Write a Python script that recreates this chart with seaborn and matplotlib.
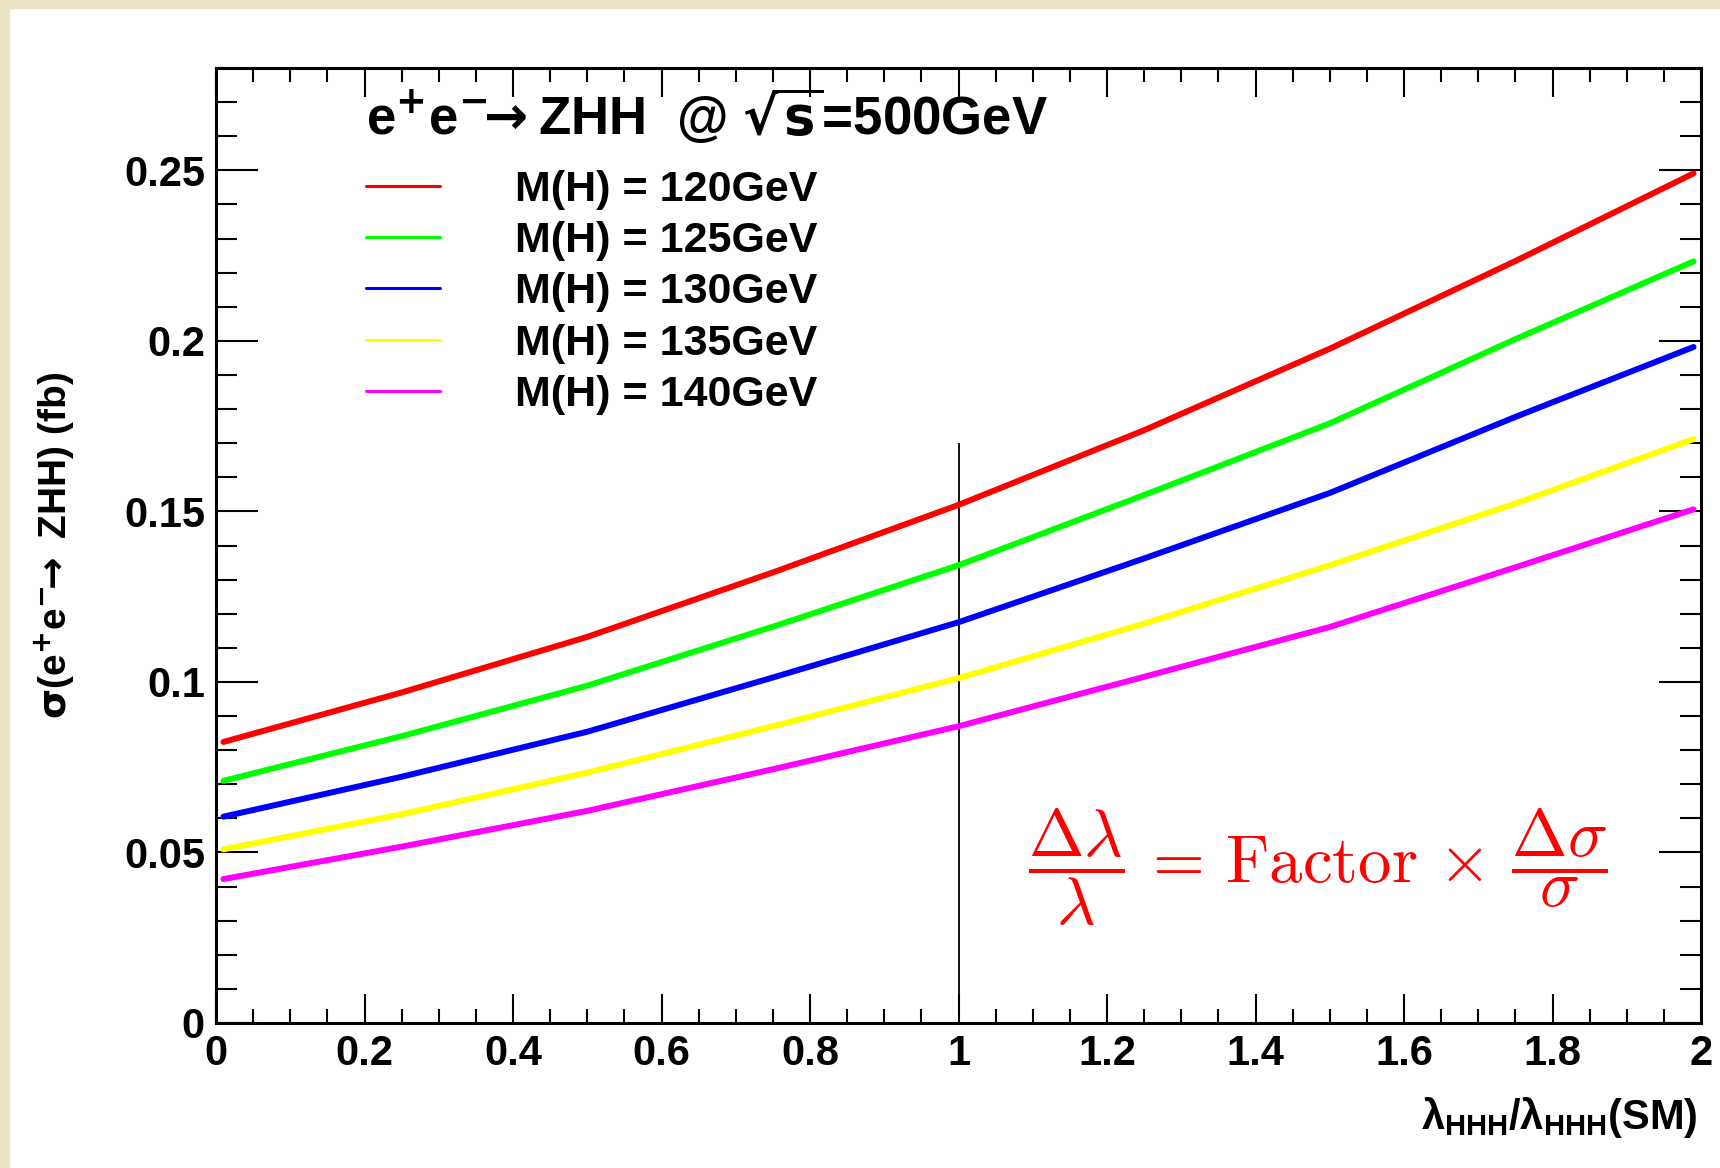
import numpy as np
import pandas as pd
import matplotlib
matplotlib.use("Agg")
import matplotlib.pyplot as plt
import seaborn as sns
from matplotlib.patches import Rectangle
from matplotlib.ticker import MultipleLocator, FuncFormatter

# ---------------- data ----------------
lam_ratio = [0.01, 0.25, 0.50, 0.75, 1.00, 1.25, 1.50, 1.75, 1.99]
xs_mh120 = [0.0824, 0.0969, 0.1132, 0.1321, 0.1519, 0.1738, 0.1977, 0.2234, 0.2491]
xs_mh125 = [0.0710, 0.0841, 0.0989, 0.1162, 0.1342, 0.1548, 0.1758, 0.2005, 0.2233]
xs_mh130 = [0.0605, 0.0722, 0.0854, 0.1013, 0.1175, 0.1362, 0.1554, 0.1777, 0.1982]
xs_mh135 = [0.0509, 0.0612, 0.0734, 0.0870, 0.1011, 0.1171, 0.1342, 0.1523, 0.1712]
xs_mh140 = [0.0422, 0.0517, 0.0622, 0.0744, 0.0870, 0.1015, 0.1161, 0.1336, 0.1506]
mass_labels = ["M(H) = 120GeV", "M(H) = 125GeV", "M(H) = 130GeV",
               "M(H) = 135GeV", "M(H) = 140GeV"]
line_colors = ["#ff0000", "#00ff00", "#0000ff", "#ffff00", "#ff00ff"]
sm_point = 1.0
sm_line_top = 0.17

series = [xs_mh120, xs_mh125, xs_mh130, xs_mh135, xs_mh140]
df = pd.concat(
    [pd.DataFrame({"lam": lam_ratio, "xs": s, "mass": m}) for s, m in zip(series, mass_labels)],
    ignore_index=True,
)

# ---------------- style ----------------
sns.set_theme(style="white")
plt.rcParams.update({
    "font.family": ["Liberation Sans", "DejaVu Sans"],
    "font.weight": "bold",
    "axes.labelweight": "bold",
    "text.color": "black",
    "axes.labelcolor": "black",
    "xtick.color": "black",
    "ytick.color": "black",
    "mathtext.fontset": "custom",
    "mathtext.rm": "Liberation Sans:bold",
    "mathtext.it": "Liberation Sans:bold",
    "mathtext.bf": "Liberation Sans:bold",
    "mathtext.sf": "Liberation Sans:bold",
    "axes.edgecolor": "black",
    "axes.linewidth": 2.2,
})

W, H = 1720, 1168
fig = plt.figure(figsize=(W / 100, H / 100), dpi=100, facecolor="white")
# beige page border (top and left)
beige = "#ece2c6"
fig.patches.append(Rectangle((0, 1 - 8 / H), 1, 8 / H, transform=fig.transFigure,
                             color=beige, zorder=-10))
fig.patches.append(Rectangle((0, 0), 9 / W, 1, transform=fig.transFigure,
                             color=beige, zorder=-10))

ax_l, ax_r, ax_t, ax_b = 216, 1701, 68, 1023
ax = fig.add_axes([ax_l / W, 1 - ax_b / H, (ax_r - ax_l) / W, (ax_b - ax_t) / H])
ax.set_facecolor("white")

def axx(px):
    return (px - ax_l) / (ax_r - ax_l)

def axy(py):
    return (ax_b - py) / (ax_b - ax_t)

sns.lineplot(data=df, x="lam", y="xs", hue="mass", hue_order=mass_labels,
             palette=line_colors, linewidth=4.3, errorbar=None, ax=ax)

ax.vlines(sm_point, 0, sm_line_top, color="black", linewidth=1.3, zorder=1)

ax.set_xlim(0, 2)
ax.set_ylim(0, 0.28)
ax.xaxis.set_major_locator(MultipleLocator(0.2))
ax.xaxis.set_minor_locator(MultipleLocator(0.05))
ax.yaxis.set_major_locator(MultipleLocator(0.05))
ax.yaxis.set_minor_locator(MultipleLocator(0.01))
fmt = FuncFormatter(lambda v, p: "%g" % round(v, 4))
ax.xaxis.set_major_formatter(fmt)
ax.yaxis.set_major_formatter(fmt)

for s in ax.spines.values():
    s.set_visible(True)
    s.set_color("black")
    s.set_linewidth(2.2)

ax.tick_params(which="both", direction="in", top=True, right=True,
               bottom=True, left=True, color="black", labelcolor="black", width=1.5)
ax.tick_params(axis="x", which="major", length=21, pad=8, labelsize=30)
ax.tick_params(axis="x", which="minor", length=10)
ax.tick_params(axis="y", which="major", length=30, pad=8, labelsize=30)
ax.tick_params(axis="y", which="minor", length=15)
for lbl in ax.get_xticklabels() + ax.get_yticklabels():
    lbl.set_fontweight("bold")

# axis labels
ax.set_xlabel(r"$\lambda_{HHH}/\lambda_{HHH}$(SM)", fontsize=30, ha="right", va="center",
              color="black")
ax.xaxis.set_label_coords(axx(1697), axy(1117))
ax.set_ylabel(r"$\mathrm{\sigma}$(e$^{\mathbf{+}}$e$^{\mathbf{-}}\!\!\rightarrow$ ZHH) (fb)",
              fontsize=28, va="center", color="black", math_fontfamily="dejavusans")
ax.yaxis.set_label_coords(axx(55), 0.5)

# title inside the frame
ax.text(axx(366), axy(135),
        r"e$^{\mathbf{+}}$e$^{\mathbf{-}}\!\!\rightarrow$ZHH  @ $\sqrt{\mathbf{s}}$=500GeV",
        transform=ax.transAxes, fontsize=38, fontweight="bold",
        ha="left", va="baseline", color="black", math_fontfamily="dejavusans")

# legend
old = ax.get_legend()
handles = list(old.legend_handles)
labels = [t.get_text() for t in old.get_texts()]
leg = ax.legend(handles, labels, loc="upper left",
                bbox_to_anchor=(axx(366), axy(170)),
                frameon=False, fontsize=31, handlelength=1.72, handletextpad=1.74,
                labelspacing=0.26, borderpad=0, borderaxespad=0)
for ln in leg.get_lines():
    ln.set_linewidth(2.2)
for t in leg.get_texts():
    t.set_fontweight("bold")
    t.set_color("black")

# formula
ax.text(axx(1318), axy(867),
        r"$\dfrac{\Delta\lambda}{\lambda}\,=\,\mathrm{Factor}\,\times\,\dfrac{\Delta\sigma}{\sigma}$",
        transform=ax.transAxes, fontsize=48, color="red", ha="center", va="center",
        math_fontfamily="cm")

fig.savefig("out.png", dpi=100, facecolor="white")
